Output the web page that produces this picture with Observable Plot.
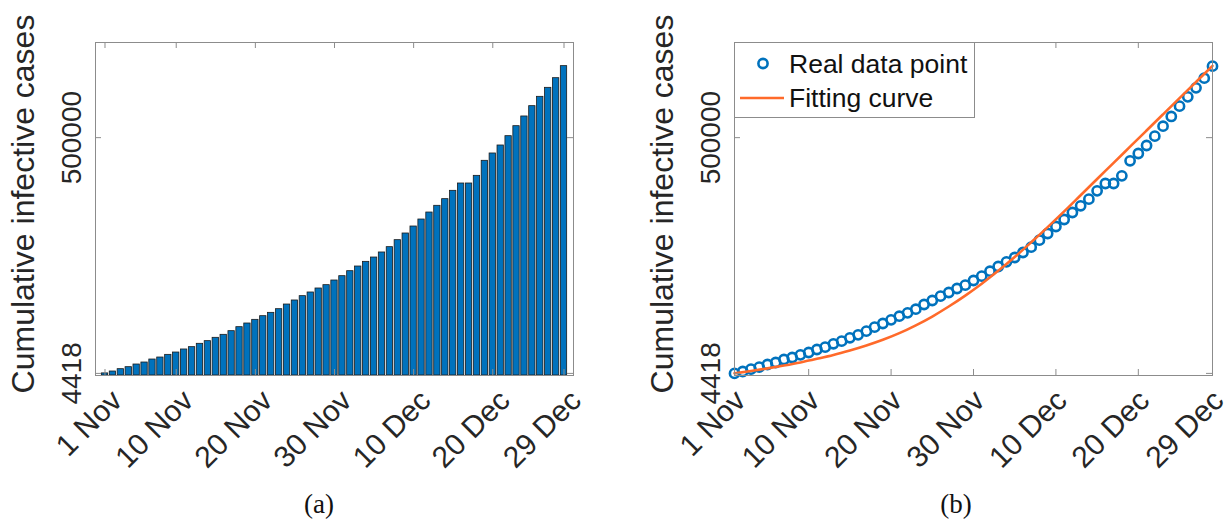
<!DOCTYPE html>
<html>
<head>
<meta charset="utf-8">
<script src="https://cdn.jsdelivr.net/npm/d3@7"></script>
<script src="https://cdn.jsdelivr.net/npm/@observablehq/plot@0.6"></script>
<style>
  html, body { margin: 0; padding: 0; background: #fff; }
  #page { position: relative; width: 1231px; height: 522px; overflow: hidden; background: #fff; }
  .panel { position: absolute; top: 0; }
  .caption { position: absolute; top: 489px; font-family: "Liberation Serif", "DejaVu Serif", serif; font-size: 27px; color: #111; transform: translateX(-50%); }
  #legend { position: absolute; }
</style>
</head>
<body>
<div id="page">
  <div class="panel" id="left" style="left:0px"></div>
  <div class="panel" id="right" style="left:620px"></div>
  <div class="caption" style="left:319px">(a)</div>
  <div class="caption" style="left:956px">(b)</div>
  <div id="legend" style="left:734px; top:42px"></div>
</div>
<script>
// Day index (1 = 1 Nov, 59 = 29 Dec) and cumulative cases
const days = d3.range(1, 60);
const cases = [
  4418, 8400, 13300, 17500, 23100, 27300, 33600, 37800, 43400, 48300,
  54700, 59600, 66600, 72200, 79200, 85500, 93200, 101600, 109300, 117000,
  124700, 131700, 139400, 149200, 157700, 166800, 174500, 182900, 189900, 199700,
  208800, 219300, 229100, 238900, 248000, 258600, 269800, 284500, 298500, 313200,
  327900, 342600, 356700, 370700, 388200, 403600, 403600, 419700, 451300, 466700,
  483500, 503100, 524100, 544500, 566200, 585800, 604700, 625000, 650300
];

// Fitted model, sampled every other day
const fitDays = [1, 3, 5, 7, 9, 11, 13, 15, 17, 19, 21, 23, 25, 27, 29,
                 31, 33, 35, 37, 39, 41, 43, 45, 47, 49, 51, 53, 55, 57, 59];
const fitCases = [4418, 9500, 15000, 21000, 27500, 35000, 43000, 52500, 63000, 75000,
                  89000, 105500, 124000, 145000, 168000, 193000, 220000, 249000, 280000, 312000,
                  345000, 379000, 413000, 447000, 481000, 515000, 549000, 583000, 617000, 651000];

const tickDays = [1, 10, 20, 30, 40, 50, 59];
const tickLabels = ["1 Nov", "10 Nov", "20 Nov", "30 Nov", "10 Dec", "20 Dec", "29 Dec"];
const yTicks = [4418, 500000];
const yLabel = "Cumulative infective cases";

const blue = "#0072BD";
const orange = "#FF6A2A";
const frameGray = "#8c8c8c";
const textColor = "#262626";
const fontFamily = "'Liberation Sans', Arial, Helvetica, sans-serif";

const data = days.map((d, i) => ({day: d, cases: cases[i]}));
const fit = fitDays.map((d, i) => ({day: d, cases: fitCases[i]}));
const labelOf = new Map(tickDays.map((d, i) => [d, tickLabels[i]]));

// Shared axis decorations: inward ticks on all four sides, rotated labels
function decorations(frameW, frameH, labelDx) {
  return [
    Plot.frame({stroke: frameGray, strokeWidth: 1}),
    Plot.tickX(tickDays, {x: d => d, insetTop: frameH - 6, stroke: frameGray}),
    Plot.tickX(tickDays, {x: d => d, insetBottom: frameH - 6, stroke: frameGray}),
    Plot.tickY(yTicks, {y: d => d, insetRight: frameW - 6, stroke: frameGray}),
    Plot.tickY(yTicks, {y: d => d, insetLeft: frameW - 6, stroke: frameGray}),
    Plot.axisX({ticks: tickDays, tickFormat: d => labelOf.get(d), tickRotate: -45,
                tickSize: 0, tickPadding: 20, dx: labelDx, fontSize: 30, label: null}),
    Plot.axisY({ticks: yTicks, tickFormat: d => String(d), tickRotate: -90,
                tickSize: 0, tickPadding: 15, fontSize: 28, label: null}),
    // vertical axis title, left of the tick labels
    Plot.text([yLabel], {text: d => d, frameAnchor: "left", rotate: -90, lineAnchor: "top",
                         textAnchor: "middle", dx: -84, dy: -5, fontSize: 32, fill: textColor})
  ];
}

const style = {fontFamily, color: textColor, background: "white", overflow: "visible"};

// (a) bar chart
const left = Plot.plot({
  width: 610, height: 470,
  marginLeft: 95, marginRight: 37, marginTop: 42, marginBottom: 95,
  x: {type: "linear", domain: [-0.2, 60.2]},
  y: {domain: [0, 700000]},
  style,
  marks: [
    Plot.rectY(data, {x1: d => d.day - 0.4, x2: d => d.day + 0.4, y: "cases",
                      fill: blue, stroke: "#1b1b1b", strokeWidth: 0.8}),
    ...decorations(478, 333, 12)
  ]
});
document.getElementById("left").append(left);

// (b) data points with fitted curve
const right = Plot.plot({
  width: 611, height: 470,
  marginLeft: 114, marginRight: 19, marginTop: 42, marginBottom: 95,
  x: {type: "linear", domain: [1, 59]},
  y: {domain: [0, 700000]},
  style,
  marks: [
    Plot.dot(data, {x: "day", y: "cases", r: 4.6, stroke: blue, strokeWidth: 2.6, fill: "none"}),
    Plot.line(fit, {x: "day", y: "cases", stroke: orange, strokeWidth: 2.6, curve: "monotone-x"}),
    ...decorations(478, 333, 6)
  ]
});
document.getElementById("right").append(right);

// Legend box
const lg = d3.select("#legend").append("svg")
  .attr("width", 241).attr("height", 76)
  .style("font-family", fontFamily);
lg.append("rect").attr("x", 0.5).attr("y", 0.5).attr("width", 240).attr("height", 75)
  .attr("fill", "white").attr("stroke", frameGray);
lg.append("circle").attr("cx", 29).attr("cy", 21.5).attr("r", 4.6)
  .attr("fill", "none").attr("stroke", blue).attr("stroke-width", 2.6);
lg.append("line").attr("x1", 6).attr("x2", 50).attr("y1", 56).attr("y2", 56)
  .attr("stroke", orange).attr("stroke-width", 2.6);
lg.append("text").attr("x", 55).attr("y", 31).attr("font-size", 26.5).attr("fill", "#111").text("Real data point");
lg.append("text").attr("x", 55).attr("y", 65).attr("font-size", 26.5).attr("fill", "#111").text("Fitting curve");
</script>
</body>
</html>
